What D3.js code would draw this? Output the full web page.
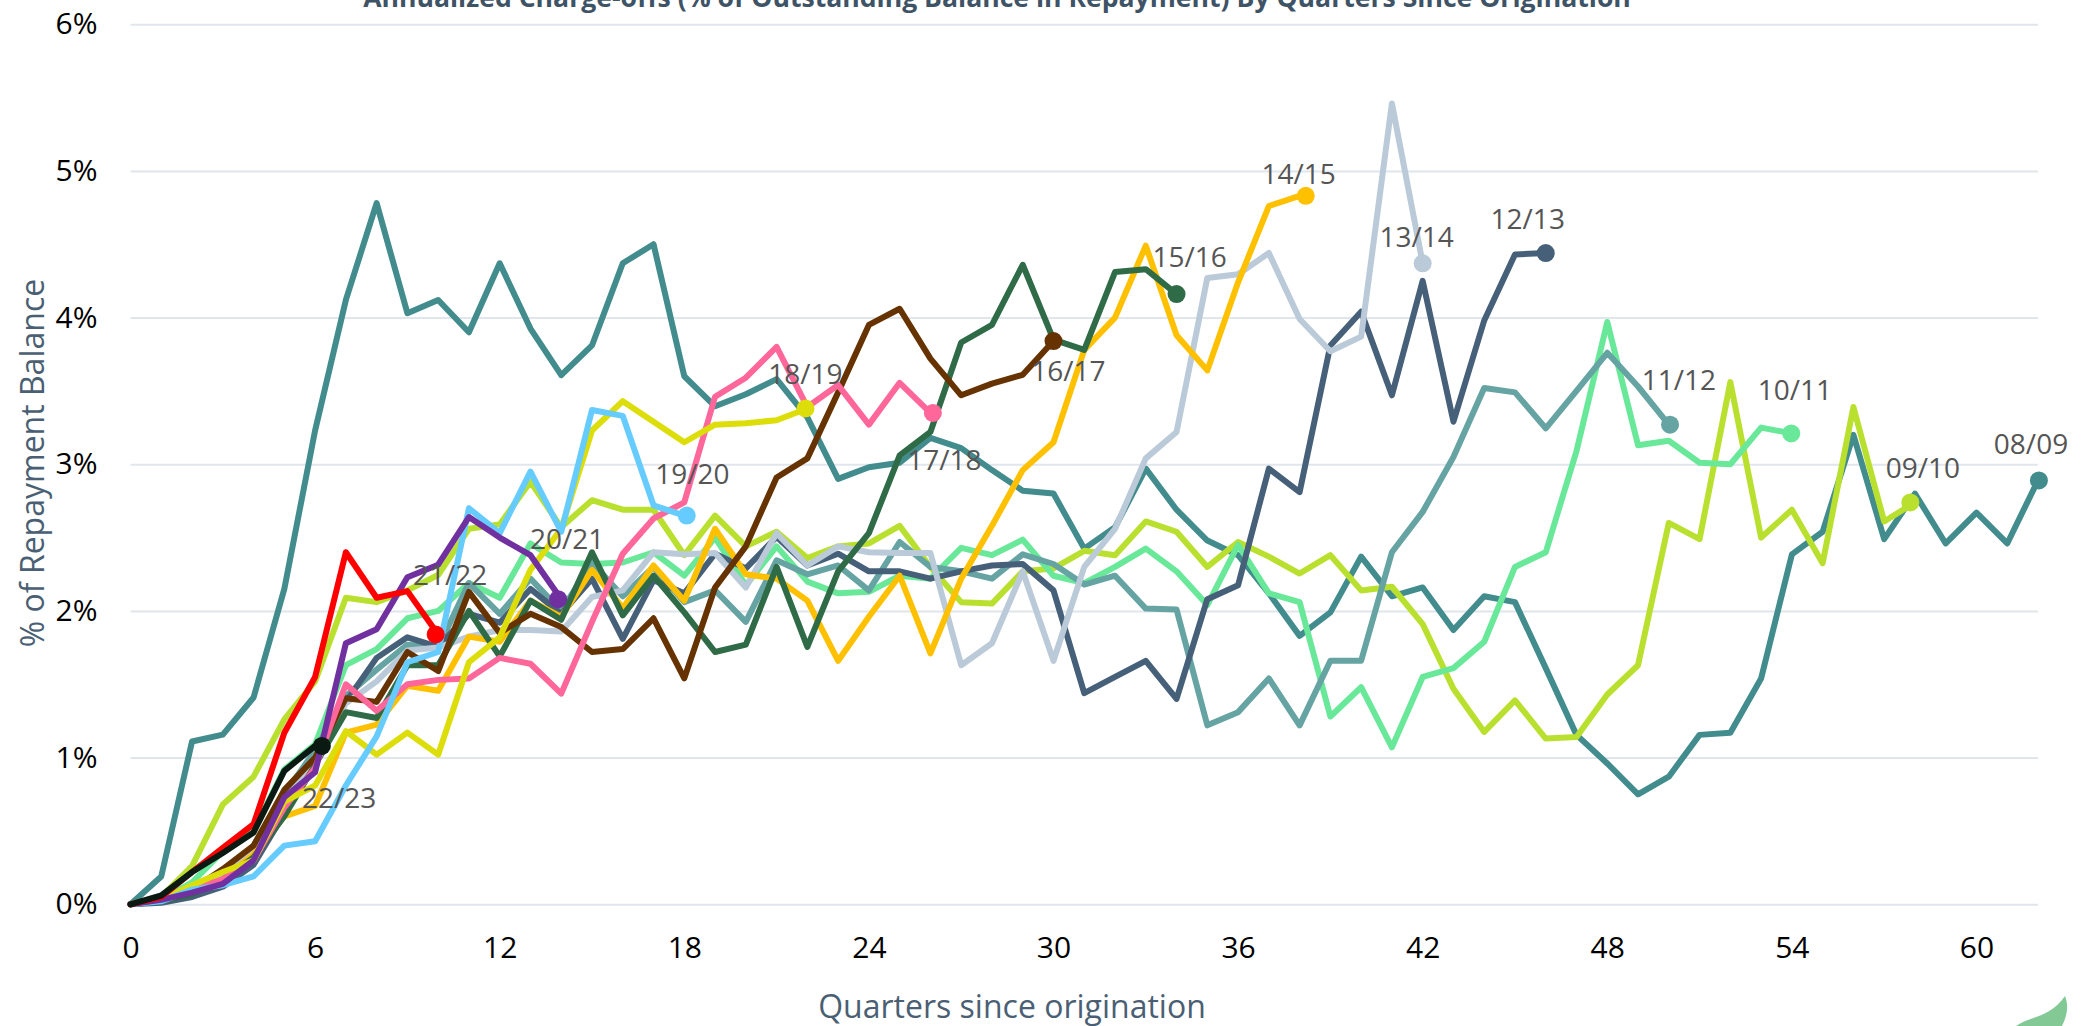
<!DOCTYPE html>
<html lang="en">
<head>
  <meta charset="UTF-8">
  <title>Annualized Charge-offs</title>
  <script src="https://d3js.org/d3.v7.min.js"></script>
  <style>
    html, body { margin: 0; padding: 0; background: #fff; overflow: hidden; }
    svg { display: block; font-family: 'Open Sans', sans-serif; }
    .grid line { stroke: #e0e6ec; stroke-width: 2px; }
    .tick text { fill: #000; font-size: 30px; font-family: 'Open Sans', sans-serif; }
    .end-label { fill: #555; font-size: 28px; text-anchor: middle; }
  </style>
</head>
<body>
  <svg width="2084" height="1026"></svg>
  <script>
    const cohorts = ["08/09", "09/10", "10/11", "11/12", "12/13", "13/14", "14/15", "15/16", "16/17", "17/18", "18/19", "19/20", "20/21", "21/22", "22/23"];
    const colors = ["#438c8e", "#bae02f", "#69e89a", "#66a3a3", "#466079", "#bbcad8", "#ffc000", "#2f6b46", "#663300", "#ff6699", "#dddd0a", "#66ccff", "#7030a0", "#ff0000", "#0a1a12"];

    // values are % of repayment balance per quarter since origination
    const s0809 = [0, 0.19, 1.11, 1.157, 1.41, 2.15, 3.23, 4.12, 4.78, 4.03, 4.12, 3.9, 4.37, 3.925, 3.607, 3.81, 4.37, 4.5, 3.6, 3.395, 3.477, 3.58, 3.32, 2.9, 2.98, 3.01, 3.18, 3.11, 2.96, 2.82, 2.8, 2.425, 2.57, 2.97, 2.69, 2.48, 2.38, 2.12, 1.83, 1.99, 2.37, 2.1, 2.16, 1.87, 2.1, 2.06, 1.61, 1.155, 0.96, 0.75, 0.87, 1.155, 1.17, 1.54, 2.385, 2.54, 3.2, 2.49, 2.8, 2.46, 2.67, 2.46, 2.89];
    const s0910 = [0, 0.05, 0.26, 0.68, 0.87, 1.26, 1.52, 2.09, 2.06, 2.14, 2.245, 2.56, 2.59, 2.88, 2.57, 2.755, 2.69, 2.69, 2.38, 2.65, 2.44, 2.54, 2.36, 2.44, 2.46, 2.58, 2.3, 2.06, 2.05, 2.27, 2.29, 2.41, 2.38, 2.61, 2.54, 2.3, 2.47, 2.37, 2.255, 2.38, 2.14, 2.165, 1.91, 1.47, 1.175, 1.39, 1.13, 1.14, 1.43, 1.63, 2.6, 2.49, 3.56, 2.5, 2.69, 2.325, 3.39, 2.61, 2.74];
    const s1011 = [0, 0.03, 0.15, 0.36, 0.5, 0.92, 1.09, 1.63, 1.74, 1.95, 2, 2.19, 2.09, 2.46, 2.33, 2.32, 2.33, 2.4, 2.24, 2.5, 2.175, 2.44, 2.2, 2.12, 2.13, 2.24, 2.22, 2.43, 2.38, 2.486, 2.24, 2.19, 2.3, 2.425, 2.27, 2.04, 2.45, 2.12, 2.06, 1.28, 1.48, 1.07, 1.55, 1.61, 1.79, 2.3, 2.4, 3.09, 3.97, 3.13, 3.16, 3.01, 3, 3.25, 3.21];
    const s1112 = [0, 0.02, 0.08, 0.2, 0.4, 0.75, 1.05, 1.42, 1.6, 1.77, 1.75, 2.19, 1.98, 2.22, 2, 2.33, 2.1, 2.3, 2.06, 2.14, 1.925, 2.345, 2.25, 2.31, 2.14, 2.47, 2.3, 2.27, 2.22, 2.386, 2.32, 2.18, 2.24, 2.016, 2.01, 1.22, 1.31, 1.54, 1.22, 1.66, 1.66, 2.4, 2.675, 3.05, 3.52, 3.49, 3.245, 3.5, 3.76, 3.53, 3.27];
    const s1213 = [0, 0.01, 0.05, 0.12, 0.27, 0.62, 0.95, 1.38, 1.68, 1.82, 1.755, 1.98, 1.92, 2.15, 1.98, 2.22, 1.81, 2.21, 2.12, 2.39, 2.29, 2.505, 2.31, 2.39, 2.27, 2.27, 2.22, 2.27, 2.31, 2.32, 2.14, 1.44, 1.55, 1.66, 1.4, 2.08, 2.175, 2.97, 2.81, 3.81, 4.04, 3.47, 4.25, 3.29, 3.98, 4.43, 4.44];
    const s1314 = [0, 0.03, 0.08, 0.18, 0.4, 0.72, 1, 1.37, 1.52, 1.73, 1.75, 1.825, 1.87, 1.87, 1.86, 2.095, 2.14, 2.4, 2.386, 2.395, 2.16, 2.53, 2.31, 2.44, 2.4, 2.395, 2.395, 1.63, 1.78, 2.27, 1.66, 2.3, 2.56, 3.04, 3.22, 4.27, 4.295, 4.44, 3.99, 3.77, 3.87, 5.46, 4.37];
    const s1415 = [0, 0.05, 0.1, 0.17, 0.34, 0.6, 0.67, 1.17, 1.225, 1.49, 1.456, 1.825, 1.79, 2.07, 1.96, 2.28, 2.02, 2.31, 2.07, 2.56, 2.25, 2.22, 2.07, 1.66, 1.96, 2.24, 1.71, 2.22, 2.58, 2.96, 3.15, 3.78, 4, 4.49, 3.88, 3.64, 4.24, 4.76, 4.83];
    const s1516 = [0, 0.02, 0.07, 0.17, 0.32, 0.6, 0.95, 1.31, 1.27, 1.63, 1.63, 2, 1.69, 2.07, 1.94, 2.4, 1.97, 2.24, 1.99, 1.72, 1.77, 2.3, 1.755, 2.27, 2.53, 3.06, 3.22, 3.83, 3.95, 4.36, 3.85, 3.78, 4.31, 4.33, 4.16];
    const s1617 = [0, 0.03, 0.1, 0.24, 0.4, 0.78, 1, 1.405, 1.38, 1.72, 1.59, 2.13, 1.85, 1.98, 1.89, 1.72, 1.74, 1.95, 1.54, 2.16, 2.44, 2.91, 3.04, 3.49, 3.95, 4.06, 3.72, 3.47, 3.55, 3.61, 3.84];
    const s1718 = [0, 0.03, 0.1, 0.17, 0.3, 0.66, 0.93, 1.5, 1.32, 1.5, 1.53, 1.54, 1.68, 1.64, 1.436, 1.925, 2.39, 2.63, 2.74, 3.46, 3.59, 3.8, 3.39, 3.54, 3.27, 3.555, 3.35];
    const s1819 = [0, 0.03, 0.13, 0.22, 0.3, 0.7, 0.81, 1.18, 1.02, 1.17, 1.02, 1.65, 1.82, 2.28, 2.56, 3.23, 3.43, 3.29, 3.15, 3.27, 3.28, 3.3, 3.38];
    const s1920 = [0, 0.02, 0.1, 0.13, 0.19, 0.4, 0.43, 0.81, 1.145, 1.65, 1.72, 2.7, 2.53, 2.95, 2.54, 3.37, 3.33, 2.72, 2.65];
    const s2021 = [0, 0.03, 0.08, 0.14, 0.3, 0.73, 0.9, 1.78, 1.875, 2.23, 2.315, 2.64, 2.5, 2.38, 2.08];
    const s2122 = [0, 0.05, 0.22, 0.385, 0.546, 1.17, 1.55, 2.4, 2.09, 2.135, 1.84];
    const s2223 = [0, 0.06, 0.22, 0.35, 0.49, 0.91, 1.08];
    const seriesValues = [s0809, s0910, s1011, s1112, s1213, s1314, s1415, s1516, s1617, s1718, s1819, s1920, s2021, s2122, s2223];

    // quarter at which each end dot sits
    const endQuarters = [62.03, 57.85, 53.98, 50.04, 46, 42, 38.2, 34, 30, 26.08, 21.94, 18.08, 13.9, 9.92, 6.22];

    const xTicks = [0, 6, 12, 18, 24, 30, 36, 42, 48, 54, 60];
    const yTicks = [0, 1, 2, 3, 4, 5, 6];

    // label nudges away from the end dot (px)
    const labelOffsets = [[-7, -26], [8, -24], [3, -33], [10, -35], [-18, -24], [-6, -16], [-1, -12], [13, -27], [15, 40], [14, 57], [-2, -25], [8, -32], [6, -50], [12, -49], [24, 62]];

    const x = d3.scaleLinear().domain([0, 62]).range([130.5, 2038]);
    const y = d3.scaleLinear().domain([0, 6]).range([904.3, 24.2]);

    const svg = d3.select("svg");

    // gridlines
    svg.append("g")
      .attr("class", "grid")
      .attr("transform", "translate(130.5,0)")
      .call(d3.axisLeft(y).tickValues(yTicks).tickSize(-1907.5).tickFormat(""))
      .call(g => g.select(".domain").remove());

    const line = d3.line()
      .x((d, i) => x(i))
      .y(d => y(d));

    svg.append("g")
      .selectAll("path")
      .data(seriesValues)
      .join("path")
      .attr("d", line)
      .attr("fill", "none")
      .attr("stroke", (d, i) => colors[i])
      .attr("stroke-width", 6)
      .attr("stroke-linejoin", "round")
      .attr("stroke-linecap", "round");

    svg.append("g")
      .selectAll("circle")
      .data(seriesValues)
      .join("circle")
      .attr("cx", (d, i) => x(endQuarters[i]))
      .attr("cy", d => y(d[d.length - 1]))
      .attr("r", 9)
      .attr("fill", (d, i) => colors[i]);

    svg.append("g")
      .selectAll("text")
      .data(seriesValues)
      .join("text")
      .attr("class", "end-label")
      .attr("x", (d, i) => x(d.length - 1) + labelOffsets[i][0])
      .attr("y", (d, i) => y(d[d.length - 1]) + labelOffsets[i][1])
      .text((d, i) => cohorts[i]);

    // axes
    svg.append("g")
      .attr("transform", "translate(0,904.3)")
      .call(d3.axisBottom(x).tickValues(xTicks).tickSize(0).tickPadding(32))
      .call(g => g.select(".domain").remove())
      .call(g => g.selectAll("text").attr("dy", "0.71em"));

    svg.append("g")
      .attr("transform", "translate(130.5,0)")
      .call(d3.axisLeft(y).tickValues(yTicks).tickSize(0).tickPadding(33).tickFormat(d => d + "%"))
      .call(g => g.select(".domain").remove());

    // titles
    svg.append("text")
      .attr("x", 997)
      .attr("y", 7)
      .attr("text-anchor", "middle")
      .attr("font-weight", "bold")
      .attr("font-size", 26.6)
      .attr("fill", "#3f5366")
      .text("Annualized Charge-offs (% of Outstanding Balance in Repayment) By Quarters Since Origination");

    svg.append("text")
      .attr("x", 1012)
      .attr("y", 1018)
      .attr("text-anchor", "middle")
      .attr("font-size", 32)
      .attr("fill", "#4a5f73")
      .text("Quarters since origination");

    svg.append("text")
      .attr("transform", "translate(44,463) rotate(-90)")
      .attr("text-anchor", "middle")
      .attr("font-size", 32)
      .attr("fill", "#4a5f73")
      .text("% of Repayment Balance");

    // leaf in the corner
    svg.append("path")
      .attr("d", "M2016,1026 C2030,1016 2050,1018 2065,996 C2069,1006 2067,1016 2062,1026 Z")
      .attr("fill", "#82c995");
  </script>
</body>
</html>
